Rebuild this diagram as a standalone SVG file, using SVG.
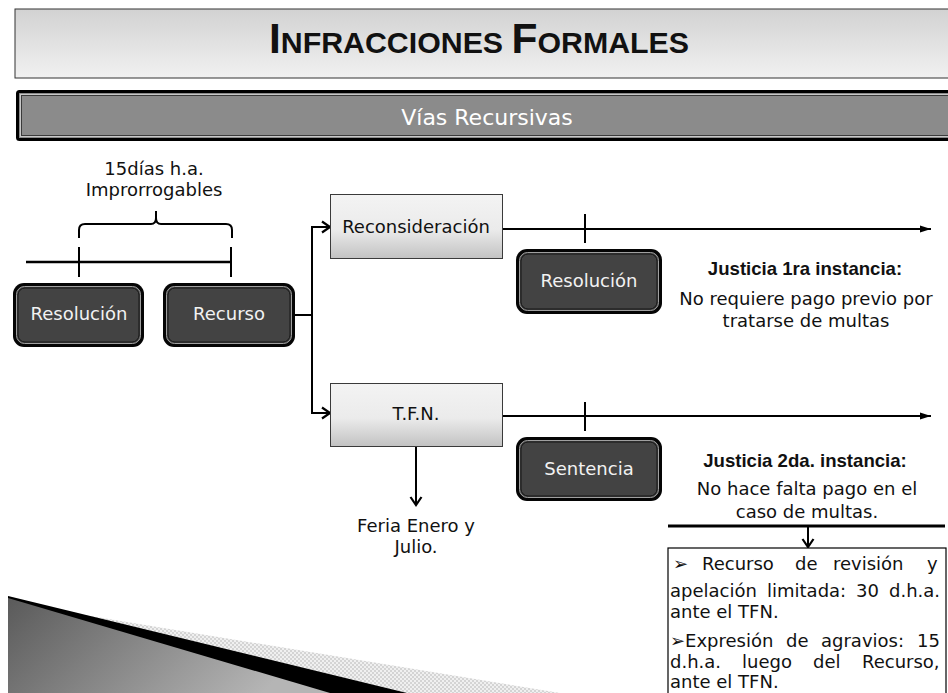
<svg xmlns="http://www.w3.org/2000/svg" width="948" height="693" viewBox="0 0 948 693">
<defs>
<style>
.t{font-family:"DejaVu Sans","Liberation Sans",sans-serif;font-size:18px;fill:#111}
.w{font-family:"DejaVu Sans","Liberation Sans",sans-serif;font-size:18px;fill:#f2f2f2}
.h{font-family:"Liberation Sans",Arial,sans-serif;font-size:18.6px;font-weight:bold;fill:#111}
.ln{stroke:#000;stroke-width:2;fill:none}
.lbox{fill:url(#lg);stroke:#3a3a3a;stroke-width:1}
.dout{fill:#050505}
.din{fill:#434343;stroke:#a0a0a0;stroke-width:1}
.din2{fill:none;stroke:#161616;stroke-width:1}
</style>
<linearGradient id="lg" x1="0" y1="0" x2="0" y2="1">
<stop offset="0" stop-color="#f3f3f3"/><stop offset="0.55" stop-color="#ebebeb"/><stop offset="1" stop-color="#c2c2c2"/>
</linearGradient>
<linearGradient id="tg" x1="0" y1="0" x2="0" y2="1">
<stop offset="0" stop-color="#d2d2d2"/><stop offset="1" stop-color="#f1f1f1"/>
</linearGradient>
<linearGradient id="dg" x1="0" y1="0" x2="1" y2="0.3">
<stop offset="0" stop-color="#5a5a5a"/><stop offset="1" stop-color="#b5b5b5"/>
</linearGradient>
<pattern id="chk" width="4" height="4" patternUnits="userSpaceOnUse">
<rect width="4" height="4" fill="#f0f0f0"/><rect width="2" height="2" fill="#d4d4d4"/><rect x="2" y="2" width="2" height="2" fill="#d4d4d4"/>
</pattern>
<marker id="ao" markerUnits="userSpaceOnUse" markerWidth="14" markerHeight="14" viewBox="0 0 14 14" refX="12" refY="7" orient="auto">
<path d="M4,1.5 L12,7 L4,12.5" fill="none" stroke="#000" stroke-width="2.2"/>
</marker>
<marker id="af" markerUnits="userSpaceOnUse" markerWidth="12" markerHeight="10" viewBox="0 0 12 10" refX="11" refY="5" orient="auto">
<path d="M0,1.5 L11,5 L0,8.5 z" fill="#000"/>
</marker>
</defs>

<rect width="948" height="693" fill="#fff"/>

<!-- decoration bottom left -->
<g id="decor">
<polygon points="8,596 60,611 560,693 8,693" fill="url(#chk)"/>
<polygon points="8,596 407,693 8,693" fill="#000"/>
<polygon points="8,598 330,693 8,693" fill="url(#dg)"/>
</g>

<!-- header -->
<g id="title">
<rect x="15" y="9" width="945" height="69" fill="url(#tg)" stroke="#333" stroke-width="1"/>
<text x="269" y="53" font-family="Liberation Sans,Arial,sans-serif" font-weight="bold" fill="#111" textLength="420" lengthAdjust="spacingAndGlyphs"><tspan font-size="42">I</tspan><tspan font-size="30">NFRACCIONES </tspan><tspan font-size="42">F</tspan><tspan font-size="30">ORMALES</tspan></text>
</g>
<g id="subtitle">
<rect x="17.5" y="91.5" width="945" height="48" rx="2" fill="#8b8b8b" stroke="#000" stroke-width="3"/>
<rect x="20.5" y="94.5" width="940" height="42" fill="none" stroke="#c8c8c8" stroke-width="1"/>
<rect x="21.5" y="95.5" width="938" height="40" fill="none" stroke="#3a3a3a" stroke-width="1"/>
<text x="487" y="125" text-anchor="middle" font-family="DejaVu Sans,sans-serif" font-size="22" fill="#fff">Vías Recursivas</text>
</g>

<!-- connectors -->
<g id="connectors">
<path class="ln" d="M79,238 L79,230 Q79,224 85,224 L151,224 Q156,224 156,218 L156,211 M156,218 Q156,224 161,224 L226,224 Q232,224 232,230 L232,238"/>
<line x1="26" y1="262" x2="232" y2="262" stroke="#000" stroke-width="2.5"/>
<line x1="79" y1="247" x2="79" y2="277" class="ln"/>
<line x1="231" y1="247" x2="231" y2="277" class="ln"/>
<line x1="295" y1="315" x2="312" y2="315" class="ln"/>
<line x1="312" y1="226" x2="312" y2="414" class="ln"/>
<line x1="311" y1="227" x2="330" y2="227" class="ln" marker-end="url(#ao)"/>
<line x1="311" y1="413" x2="330" y2="413" class="ln" marker-end="url(#ao)"/>
<line x1="503" y1="229" x2="931" y2="229" class="ln" marker-end="url(#af)"/>
<line x1="585" y1="214" x2="585" y2="243" class="ln"/>
<line x1="503" y1="416" x2="931" y2="416" class="ln" marker-end="url(#af)"/>
<line x1="585" y1="402" x2="585" y2="431" class="ln"/>
<line x1="416" y1="447" x2="416" y2="505" class="ln" marker-end="url(#ao)"/>
<line x1="668" y1="526" x2="945" y2="526" stroke="#000" stroke-width="2.8"/>
<line x1="808" y1="527" x2="808" y2="547" class="ln" marker-end="url(#ao)"/>
</g>

<!-- nodes -->
<g id="lbl-15dias">
<text class="t" x="154" y="175" text-anchor="middle">15días h.a.</text>
<text class="t" x="154" y="196" text-anchor="middle">Improrrogables</text>
</g>

<g id="resolucion1">
<rect class="dout" x="13" y="283" width="131" height="64" rx="11"/>
<rect class="din" x="16.5" y="286.5" width="124" height="57" rx="8"/>
<rect class="din2" x="18" y="288" width="121" height="54" rx="7"/>
<text class="w" x="79" y="320" text-anchor="middle">Resolución</text>
</g>

<g id="recurso">
<rect class="dout" x="163" y="283" width="132" height="64" rx="11"/>
<rect class="din" x="166.5" y="286.5" width="125" height="57" rx="8"/>
<rect class="din2" x="168" y="288" width="122" height="54" rx="7"/>
<text class="w" x="229" y="320" text-anchor="middle">Recurso</text>
</g>

<g id="reconsideracion">
<rect class="lbox" x="330.5" y="194.5" width="172" height="64"/>
<text class="t" x="416" y="233" text-anchor="middle">Reconsideración</text>
</g>

<g id="tfn">
<rect class="lbox" x="330.5" y="383.5" width="172" height="63"/>
<text class="t" x="416" y="420" text-anchor="middle">T.F.N.</text>
</g>

<g id="resolucion2">
<rect class="dout" x="516" y="249" width="146" height="65" rx="11"/>
<rect class="din" x="519.5" y="252.5" width="139" height="58" rx="8"/>
<rect class="din2" x="521" y="254" width="136" height="55" rx="7"/>
<text class="w" x="589" y="287" text-anchor="middle">Resolución</text>
</g>

<g id="sentencia">
<rect class="dout" x="516" y="437" width="146" height="64" rx="11"/>
<rect class="din" x="519.5" y="440.5" width="139" height="57" rx="8"/>
<rect class="din2" x="521" y="442" width="136" height="54" rx="7"/>
<text class="w" x="589" y="475" text-anchor="middle">Sentencia</text>
</g>

<g id="feria">
<text class="t" x="416" y="532" text-anchor="middle">Feria Enero y</text>
<text class="t" x="416" y="553" text-anchor="middle">Julio.</text>
</g>

<g id="justicia1">
<text class="h" x="805" y="275" text-anchor="middle">Justicia 1ra instancia:</text>
<text class="t" x="806" y="305" text-anchor="middle">No requiere pago previo por</text>
<text class="t" x="806" y="327" text-anchor="middle">tratarse de multas</text>
</g>

<g id="justicia2">
<text class="h" x="805" y="467" text-anchor="middle">Justicia 2da. instancia:</text>
<text class="t" x="807" y="495" text-anchor="middle">No hace falta pago en el</text>
<text class="t" x="807" y="518" text-anchor="middle">caso de multas.</text>
</g>

<g id="plazos">
<rect x="668" y="548" width="278" height="160" fill="#fff" stroke="#000" stroke-width="1.2"/>
<text class="t" y="570"><tspan x="673">➢</tspan><tspan x="702">Recurso</tspan><tspan x="795">de</tspan><tspan x="833">revisión</tspan><tspan x="927">y</tspan></text>
<text class="t" y="597"><tspan x="670">apelación</tspan><tspan x="767">limitada:</tspan><tspan x="856">30</tspan><tspan x="889">d.h.a.</tspan></text>
<text class="t" x="670" y="618">ante el TFN.</text>
<text class="t" y="647"><tspan x="670">➢Expresión</tspan><tspan x="786">de</tspan><tspan x="821">agravios:</tspan><tspan x="917">15</tspan></text>
<text class="t" y="668"><tspan x="670">d.h.a.</tspan><tspan x="742">luego</tspan><tspan x="813">del</tspan><tspan x="862">Recurso,</tspan></text>
<text class="t" x="670" y="688">ante el TFN.</text>
</g>
</svg>
